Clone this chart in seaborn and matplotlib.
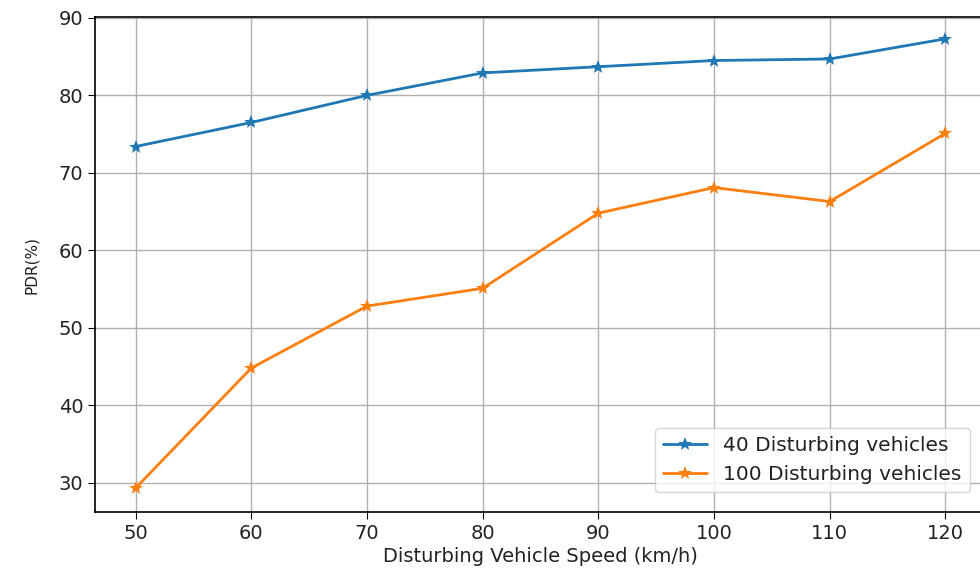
import matplotlib
matplotlib.use('Agg')
import matplotlib.pyplot as plt
import seaborn as sns
import pandas as pd

# Data
speeds = [50, 60, 70, 80, 90, 100, 110, 120]
pdr_40 = [73.4, 76.5, 80.0, 82.9, 83.7, 84.5, 84.7, 87.3]
pdr_100 = [29.3, 44.8, 52.8, 55.1, 64.8, 68.1, 66.3, 75.1]
series_names = ['40 Disturbing vehicles', '100 Disturbing vehicles']

df = pd.DataFrame({
    'speed': speeds * 2,
    'pdr': pdr_40 + pdr_100,
    'series': [series_names[0]] * len(speeds) + [series_names[1]] * len(speeds),
})

sns.set_style('ticks')
plt.rcParams['font.family'] = ['DejaVu Sans']

fig = plt.figure(figsize=(9.8, 5.71), dpi=100)
ax = fig.add_axes([0.097, 0.103, 0.909, 0.867])

sns.lineplot(
    data=df, x='speed', y='pdr', hue='series',
    palette=['#1f77b4', '#ff7f0e'], marker='*', markersize=10,
    markeredgewidth=0, linewidth=2, ax=ax,
)

ax.set_xlim(46.5, 123.5)
ax.set_ylim(26.2, 90.1)
ax.set_xticks(speeds)
ax.set_yticks([30, 40, 50, 60, 70, 80, 90])
ax.grid(True, color='#b0b0b0', linewidth=1)
ax.tick_params(labelsize=14, length=5, color='black', labelcolor='#222222')
for s in ax.spines.values():
    s.set_color('black')
    s.set_linewidth(1.2)

ax.set_xlabel('Disturbing Vehicle Speed (km/h)', fontsize=14, color='#222222', labelpad=3)
ax.set_ylabel('PDR(%)', fontsize=11, color='#222222', labelpad=14)
leg = ax.legend(loc='lower right', fontsize=14.5, title=None, framealpha=0.8,
                bbox_to_anchor=(0.993, 0.02), handlelength=2.2)
for t in leg.get_texts():
    t.set_color('#222222')

fig.savefig('out.png', dpi=100)
plt.close(fig)
